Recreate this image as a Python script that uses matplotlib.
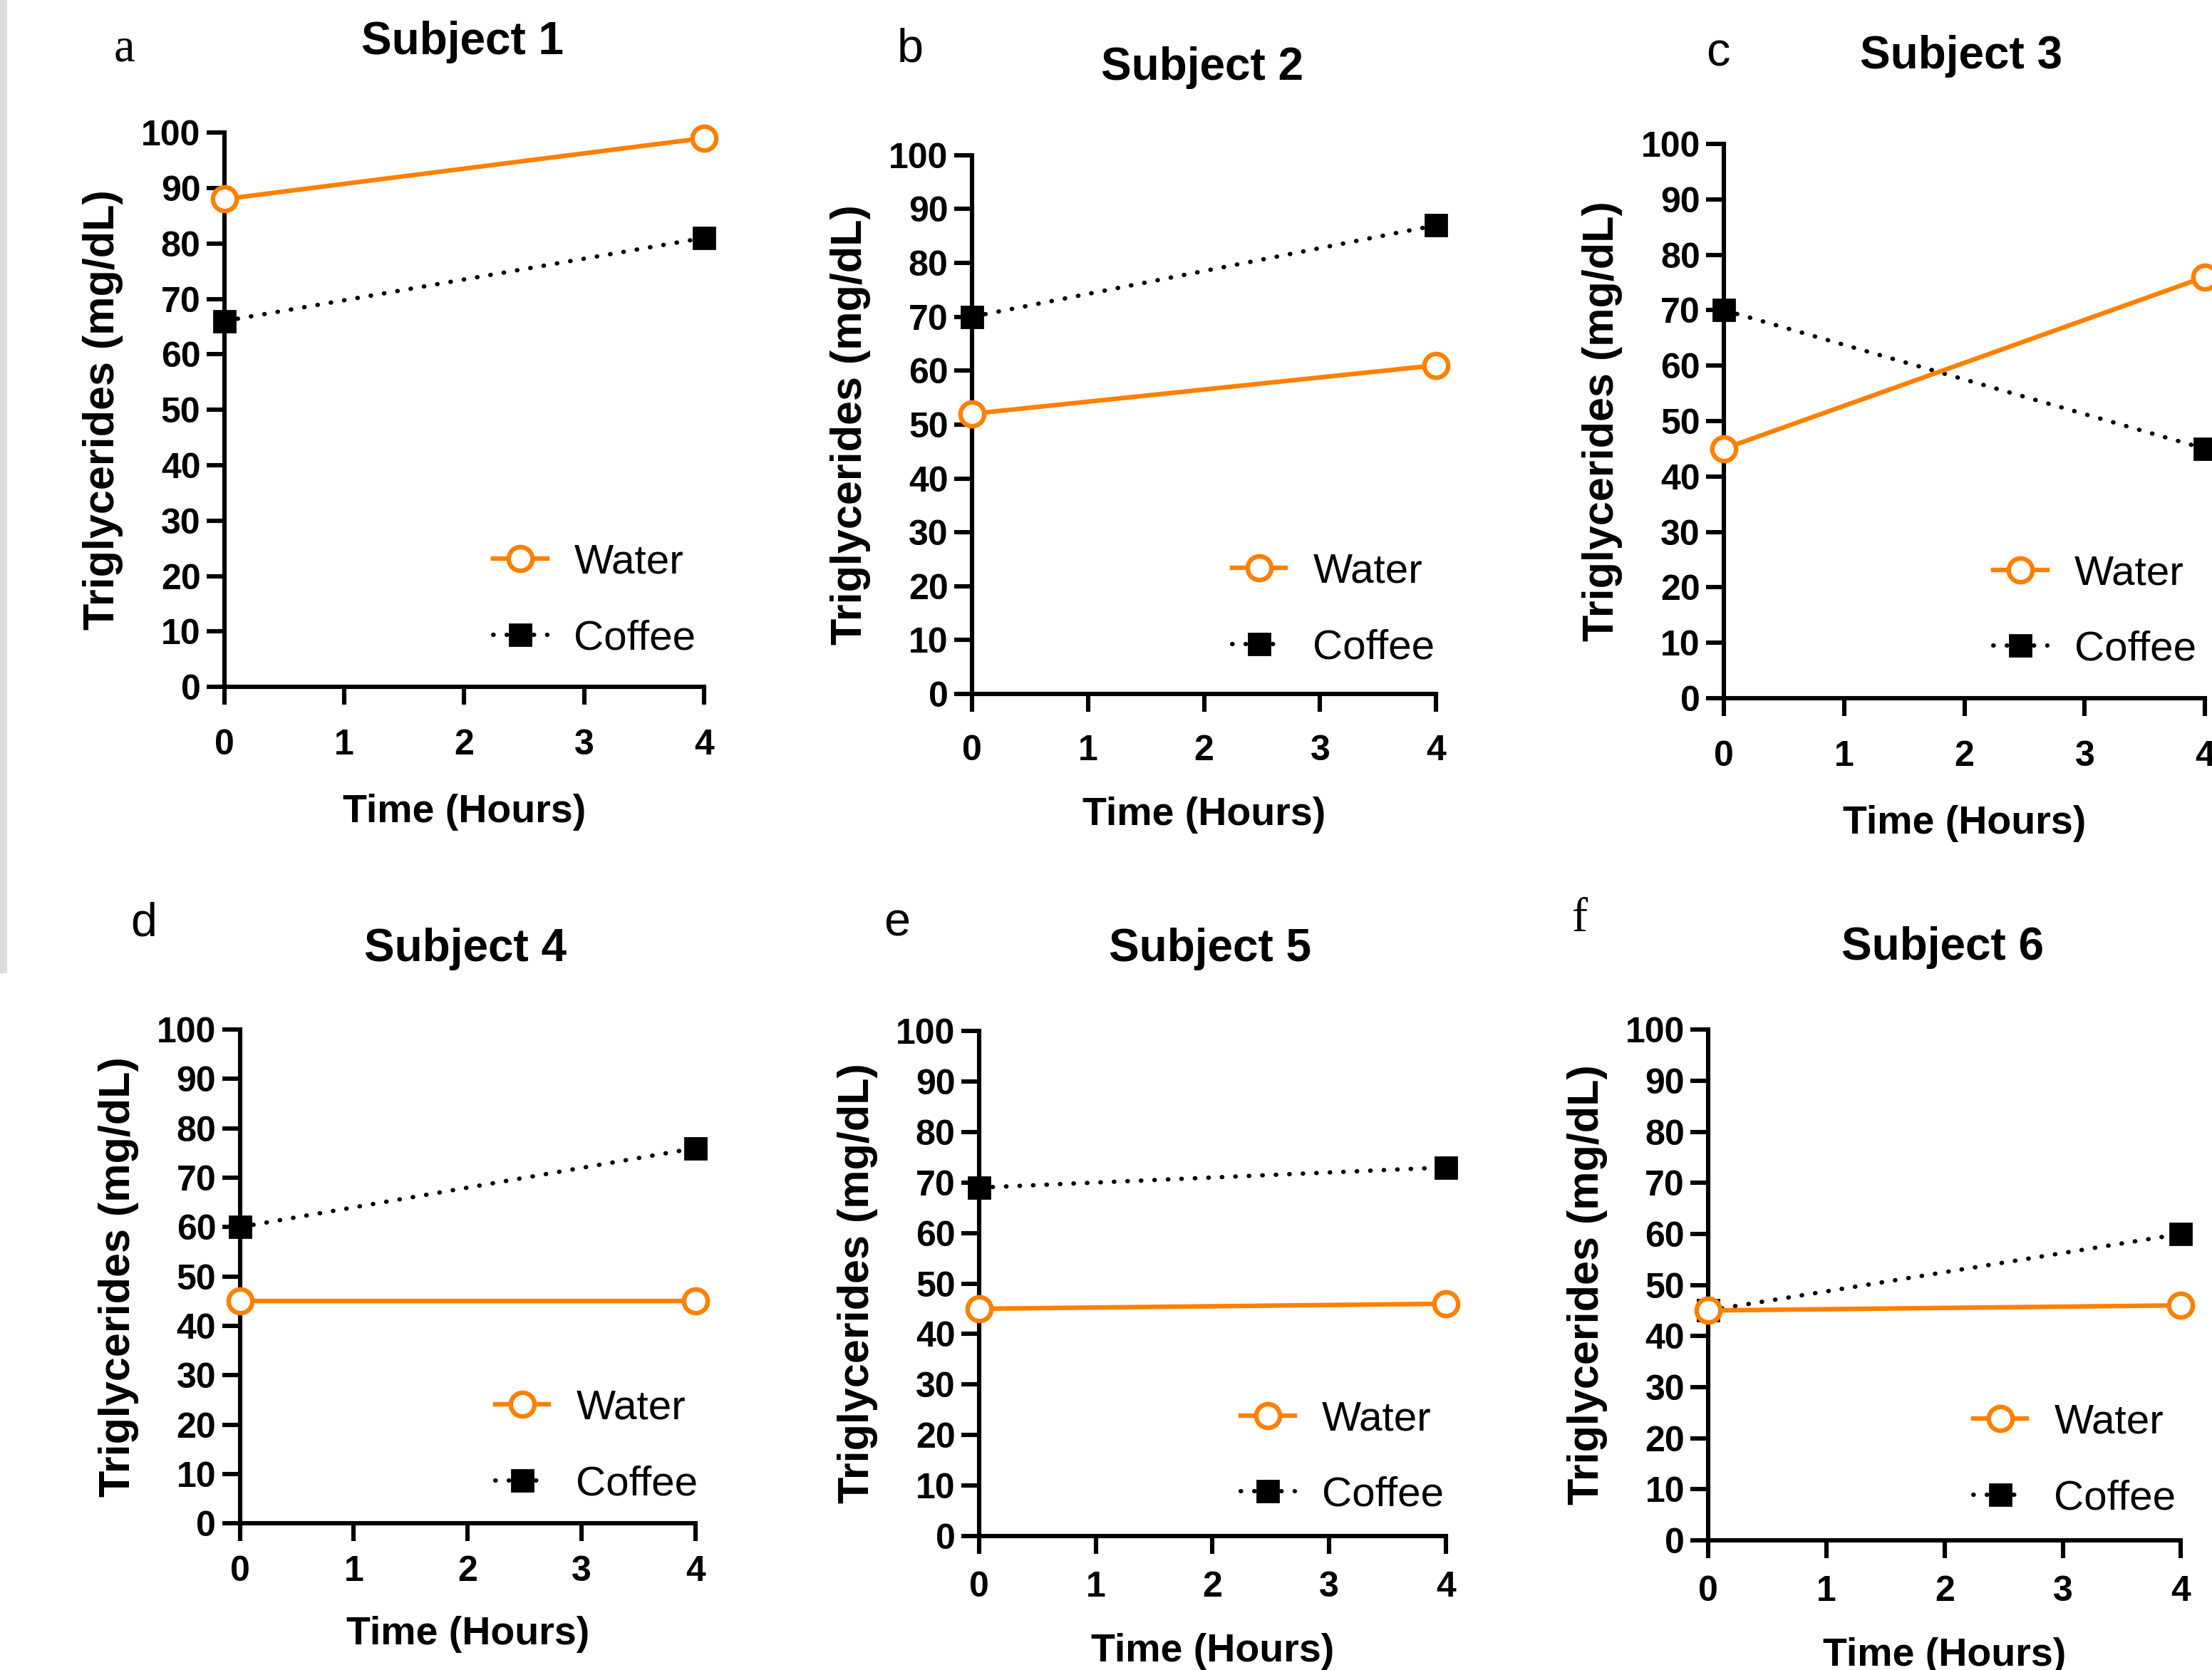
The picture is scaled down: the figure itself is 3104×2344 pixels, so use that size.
import matplotlib
matplotlib.use("Agg")
import matplotlib.pyplot as plt
from matplotlib.patches import Rectangle

plt.rcParams['font.family'] = ['Liberation Sans', 'DejaVu Sans']

# data
hours = [0, 4]
subjects = ["Subject 1", "Subject 2", "Subject 3", "Subject 4", "Subject 5", "Subject 6"]
letters = ["a", "b", "c", "d", "e", "f"]
water = [[88, 99], [52, 61], [45, 76], [45, 45], [45, 46], [45, 46]]
coffee = [[66, 81], [70, 87], [70, 45], [60, 76], [69, 73], [45, 60]]
x_ticks = [0, 1, 2, 3, 4]
y_ticks = list(range(0, 101, 10))

ORANGE = "#ff8000"
NARROW = ['Liberation Sans Narrow', 'Liberation Sans', 'DejaVu Sans']

# layout in reference pixels (1568x1184 view): axis x0, x4, y0, y100, title xy, letter xy
W, H = 1568.0, 1184.0
boxes = [
    (159, 499, 487, 94, (328, 30), (88, 35)),
    (689, 1018, 492, 110, (852, 48), (645, 35)),
    (1222, 1563, 495, 102, (1390, 40), (1218, 38)),
    (170, 493, 1080, 730, (330, 673), (102, 655)),
    (694, 1025, 1089, 731, (858, 673), (636, 655)),
    (1211, 1546, 1092, 730, (1377, 672), (1120, 652)),
]
xtick_pads = [12.3, 11.6, 12.3, 7.3, 8.7, 8.7]
xlabel_pads = [16, 14.6, 16, 13.9, 14.6, 14.6]
letter_fonts = ['Liberation Serif', 'Liberation Sans', 'Liberation Sans',
                'Liberation Sans', 'Liberation Sans', 'Liberation Serif']

fig = plt.figure(figsize=(15.52, 11.72), dpi=200)

# grey strip on the left edge of the reference screenshot
fig.add_artist(Rectangle((0, 1 - 690 / H), 5 / W, 690 / H, transform=fig.transFigure,
                         facecolor="#dcdcdc", edgecolor="none"))

for i, (x0, x1, y0, y1, tpos, lpos) in enumerate(boxes):
    ax = fig.add_axes([x0 / W, 1 - y0 / H, (x1 - x0) / W, (y0 - y1) / H])
    ax.plot(hours, water[i], color=ORANGE, lw=2.3, marker='o', ms=12,
            mfc='white', mec=ORANGE, mew=2.3, label="Water", clip_on=False, zorder=4)
    ax.plot(hours, coffee[i], color='black', lw=2.2, ls=(0, (0.1, 3)),
            dash_capstyle='round', marker='s', ms=11, mfc='black', mec='black',
            label="Coffee", clip_on=False, zorder=3)
    ax.set_xlim(0, 4)
    ax.set_ylim(0, 100)
    ax.set_xticks(x_ticks)
    ax.set_yticks(y_ticks)
    for side in ('top', 'right'):
        ax.spines[side].set_visible(False)
    for side in ('left', 'bottom'):
        ax.spines[side].set_linewidth(2.2)
    ax.tick_params(axis='both', width=2.2, length=9, labelsize=18, direction='out')
    ax.tick_params(axis='x', pad=xtick_pads[i])
    ax.tick_params(axis='y', pad=3)
    for lab in ax.get_xticklabels() + ax.get_yticklabels():
        lab.set_fontweight('bold')
    ax.set_xlabel("Time (Hours)", fontsize=20, fontweight='bold', family=NARROW,
                  labelpad=xlabel_pads[i])
    ax.set_ylabel("Triglycerides (mg/dL)", fontsize=22, fontweight='bold', family=NARROW,
                  labelpad=9)
    ax.legend(loc='center left', bbox_to_anchor=(0.56, 0.156), frameon=False, fontsize=21,
              borderpad=0, borderaxespad=0, handlelength=1.3, handletextpad=0.65,
              labelspacing=0.9)
    fig.text(tpos[0] / W, 1 - tpos[1] / H, subjects[i], ha='center', va='center',
             fontsize=23, fontweight='bold', family=NARROW)
    fig.text(lpos[0] / W, 1 - lpos[1] / H, letters[i], ha='center', va='center',
             fontsize=24, family=letter_fonts[i])

fig.savefig("out.png", dpi=200)
